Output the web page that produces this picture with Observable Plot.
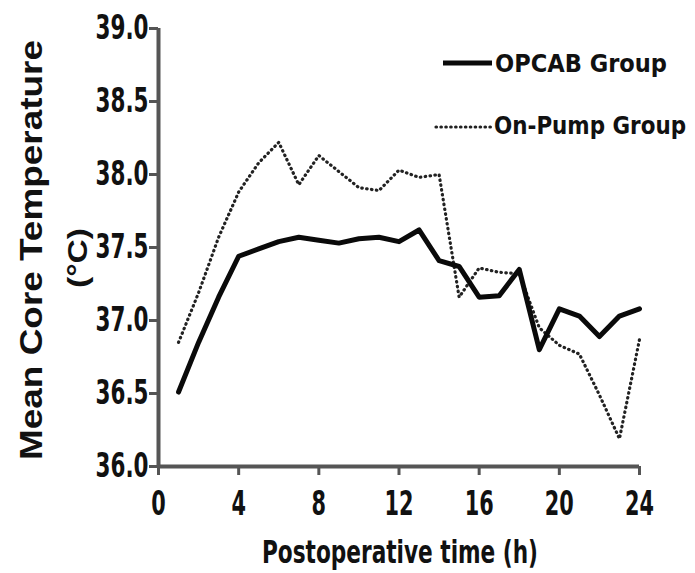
<!DOCTYPE html>
<html><head><meta charset="utf-8">
<script src="https://cdn.jsdelivr.net/npm/d3@7"></script>
<script src="https://cdn.jsdelivr.net/npm/@observablehq/plot@0.6"></script>
<style>
html,body{margin:0;padding:0;background:#fff;}
#chart{position:relative;width:695px;height:573px;}
</style></head><body><div id="chart"></div>
<script>
const hours = [1,2,3,4,5,6,7,8,9,10,11,12,13,14,15,16,17,18,19,20,21,22,23,24];
const opcab = [36.51,36.85,37.16,37.44,37.49,37.54,37.57,37.55,37.53,37.56,37.57,37.54,37.62,37.41,37.37,37.16,37.17,37.35,36.80,37.08,37.03,36.89,37.03,37.08];
const onPump = [36.85,37.19,37.57,37.88,38.08,38.22,37.93,38.13,38.02,37.91,37.89,38.03,37.98,38.00,37.16,37.36,37.33,37.32,36.95,36.83,36.77,36.49,36.19,36.87];
const xTicks = [0,4,8,12,16,20,24];
const yTicks = [36.0,36.5,37.0,37.5,38.0,38.5,39.0];
const seriesNames = ["OPCAB Group","On-Pump Group"];
const xTitle = "Postoperative time (h)";
const yTitle = "Mean Core Temperature";
const yUnit = "(°C)";

const rows = hours.flatMap((h,i)=>[{h, v: opcab[i], g: seriesNames[0]}, {h, v: onPump[i], g: seriesNames[1]}]);
const narrow = "'Liberation Sans Narrow','Arial Narrow','DejaVu Sans Condensed',sans-serif";
const wide = "'Liberation Sans',Arial,sans-serif";

const plot = Plot.plot({
  width: 695, height: 573,
  marginLeft: 158, marginRight: 56, marginTop: 28, marginBottom: 107,
  style: {background:"#fff", fontFamily: narrow, fontWeight: "bold", color:"#111", overflow:"visible"},
  x: {domain:[0,24], label:null},
  y: {domain:[36,39], label:null},
  marks: [
    Plot.axisX({ticks: xTicks, tickSize: 9, tickPadding: 15, fontSize: 34, tickFormat: d=>String(d)}),
    Plot.axisY({ticks: yTicks, tickSize: 9, tickPadding: 1, fontSize: 34, tickFormat: d=>d.toFixed(1)}),
    Plot.line(rows.filter(d=>d.g===seriesNames[1]), {x:"h", y:"v", stroke:"#222", strokeWidth:3.2, strokeDasharray:"0.5,4.4", strokeLinecap:"round"}),
    Plot.line(rows.filter(d=>d.g===seriesNames[0]), {x:"h", y:"v", stroke:"#0a0a0a", strokeWidth:5, strokeLinejoin:"round", strokeLinecap:"round"}),
    Plot.ruleY([36], {stroke:"#555", strokeWidth:4}),
    Plot.ruleX([0], {stroke:"#555", strokeWidth:4})
  ]
});

const svg = d3.select(plot);
svg.selectAll('g[aria-label="x-axis tick"] path, g[aria-label="y-axis tick"] path').attr("stroke","#555").attr("stroke-width",3);
// condensed look for tick labels
svg.selectAll('g[aria-label="x-axis tick label"] text').each(function(){
  const s = this.textContent; d3.select(this).attr("textLength", s.length*14.5).attr("lengthAdjust","spacingAndGlyphs");
});
svg.selectAll('g[aria-label="y-axis tick label"] text').each(function(){
  const s = this.textContent; const n = s.replace(/[^0-9]/g,"").length;
  d3.select(this).attr("textLength", n*15.5 + 6.5).attr("lengthAdjust","spacingAndGlyphs");
});

// axis titles
svg.append("text").attr("x",400).attr("y",563).attr("text-anchor","middle")
  .attr("font-family",narrow).attr("font-weight","bold").attr("font-size",32)
  .attr("textLength",276).attr("lengthAdjust","spacingAndGlyphs").attr("fill","#111").text(xTitle);
svg.append("text").attr("transform","translate(31,250) rotate(-90)").attr("text-anchor","middle")
  .attr("dominant-baseline","central").attr("font-family",wide).attr("font-weight","bold").attr("font-size",32)
  .attr("textLength",420).attr("lengthAdjust","spacingAndGlyphs").attr("fill","#111").text(yTitle);
svg.append("text").attr("transform","translate(77,258) rotate(-90)").attr("text-anchor","middle")
  .attr("dominant-baseline","central").attr("font-family",wide).attr("font-weight","bold").attr("font-size",28)
  .attr("textLength",60).attr("lengthAdjust","spacingAndGlyphs").attr("fill","#111").text(yUnit);

// legend
const lg = svg.append("g").attr("text-anchor","start");
lg.append("line").attr("x1",443).attr("x2",492).attr("y1",63).attr("y2",63).attr("stroke","#0a0a0a").attr("stroke-width",5);
lg.append("text").attr("x",495).attr("y",64).attr("text-anchor","start").attr("dominant-baseline","central")
  .attr("font-family",narrow).attr("font-weight","bold").attr("font-size",24)
  .attr("textLength",172).attr("lengthAdjust","spacingAndGlyphs").attr("fill","#111").text(seriesNames[0]);
lg.append("line").attr("x1",436).attr("x2",492).attr("y1",127).attr("y2",127).attr("stroke","#222")
  .attr("stroke-width",3.2).attr("stroke-dasharray","0.5,4.4").attr("stroke-linecap","round");
lg.append("text").attr("x",494).attr("y",126).attr("text-anchor","start").attr("dominant-baseline","central")
  .attr("font-family",narrow).attr("font-weight","bold").attr("font-size",24)
  .attr("textLength",192).attr("lengthAdjust","spacingAndGlyphs").attr("fill","#111").text(seriesNames[1]);

document.getElementById("chart").appendChild(plot);
</script></body></html>
